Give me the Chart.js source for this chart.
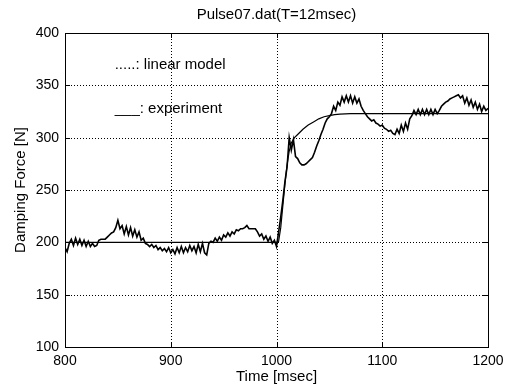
<!DOCTYPE html>
<html><head><meta charset="utf-8">
<script src="https://cdn.jsdelivr.net/npm/chart.js@4/dist/chart.umd.min.js"></script>
<style>html,body{margin:0;padding:0;background:#fff;overflow:hidden}</style>
</head><body><canvas id="c" width="516" height="389"></canvas>
<script>
// ---- data ----
const chartTitle = 'Pulse07.dat(T=12msec)';
const xTitle = 'Time [msec]';
const yTitle = 'Damping Force [N]';
const xTicks = [800, 900, 1000, 1100, 1200];
const yTicks = [100, 150, 200, 250, 300, 350, 400];
const legendLabels = ['.....: linear model', '___: experiment'];

// experiment: sampled every 2 msec from 800 to 1200
const expStart = 800, expStep = 2;
const experimentForce = [
  195,191,199,203,197,204,198,203,197,202,
  196,201,196,199,196,197,202,203,203,203,
  205,207,209,210,214,221,213,216,208,215,
  207,214,206,212,205,210,202,204,199,198,
  196,198,195,197,193,195,192,194,191,195,
  190,193,189,195,190,196,190,195,191,197,
  192,196,190,198,191,199,190,188,199,201,
  200,204,201,205,202,207,205,209,206,210,
  208,212,211,213,213,214,216,213,213,213,
  213,210,206,208,203,206,201,205,199,202,
  196,210,224,240,258,272,300,288,298,282,
  280,276,274,274,275,277,279,281,286,292,
  297,303,308,314,318,320,323,330,326,334,
  331,339,334,340,334,340,333,339,333,337,
  330,326,323,320,318,316,317,314,313,311,
  312,309,308,306,307,304,303,308,304,312,
  306,314,308,318,321,326,322,327,322,327,
  322,327,322,327,322,327,323,326,330,332,
  334,335,337,338,339,340,341,338,340,333,
  338,331,336,329,334,327,332,325,330,326,
  328
];
const modelTime  = [800, 1000, 1002, 1004, 1006, 1008, 1010, 1012, 1014, 1017, 1020, 1025, 1030, 1035, 1040, 1045, 1050, 1055, 1060, 1070, 1200];
const modelForce = [200, 200,  201,  214,  235,  256,  274,  287,  295,  300,  303,  308,  312,  315,  318,  320,  321,  322,  322.5, 323, 323];

// ---- build library structures ----
const experimentPts = experimentForce.map((v, i) => ({x: expStart + i * expStep, y: v}));
const modelPts = modelTime.map((t, i) => ({x: t, y: modelForce[i]}));

const FONT = "'Liberation Sans', Arial, Helvetica, sans-serif";
Chart.defaults.font.family = FONT;
Chart.defaults.color = '#000';

const decor = {
  id: 'decor',
  beforeDatasetsDraw(chart) {
    const {ctx, chartArea: a, scales: {x, y}} = chart;
    ctx.save();
    ctx.strokeStyle = '#000';
    ctx.lineWidth = 1;
    ctx.setLineDash([1, 2]);
    ctx.beginPath();
    xTicks.slice(1, -1).forEach(v => {
      const px = Math.round(x.getPixelForValue(v)) + 0.5;
      ctx.moveTo(px, a.top); ctx.lineTo(px, a.bottom);
    });
    yTicks.slice(1, -1).forEach(v => {
      const py = Math.round(y.getPixelForValue(v)) + 0.5;
      ctx.moveTo(a.left, py); ctx.lineTo(a.right, py);
    });
    ctx.stroke();
    ctx.restore();
  },
  afterDraw(chart, args, opts) {
    const {ctx, chartArea: a, scales: {x, y}} = chart;
    ctx.save();
    ctx.strokeStyle = '#000';
    ctx.lineWidth = 1;
    ctx.setLineDash([]);
    ctx.strokeRect(Math.round(a.left) + 0.5, Math.round(a.top) + 0.5, Math.round(a.width), Math.round(a.height));
    const tl = 5;
    ctx.beginPath();
    xTicks.forEach(v => {
      const px = Math.round(x.getPixelForValue(v)) + 0.5;
      ctx.moveTo(px, a.bottom); ctx.lineTo(px, a.bottom - tl);
      ctx.moveTo(px, a.top); ctx.lineTo(px, a.top + tl);
    });
    yTicks.forEach(v => {
      const py = Math.round(y.getPixelForValue(v)) + 0.5;
      ctx.moveTo(a.left, py); ctx.lineTo(a.left + tl, py);
      ctx.moveTo(a.right, py); ctx.lineTo(a.right - tl, py);
    });
    ctx.stroke();
    // title
    ctx.fillStyle = '#000';
    ctx.font = '15px ' + FONT;
    ctx.textAlign = 'center';
    ctx.textBaseline = 'middle';
    ctx.fillText(chartTitle, (a.left + a.right) / 2, 15);
    // in-plot legend text
    ctx.textAlign = 'left';
    ctx.font = '15px ' + FONT;
    opts.labels.forEach((lab, i) => {
      ctx.fillText(lab, x.getPixelForValue(opts.anchorX), y.getPixelForValue(opts.anchorY[i]));
    });
    ctx.restore();
  }
};

new Chart(document.getElementById('c'), {
  type: 'line',
  data: {
    datasets: [
      {label: 'experiment', data: experimentPts, borderColor: '#000', borderWidth: 1.6, pointRadius: 0, tension: 0, fill: false},
      {label: 'linear model', data: modelPts, borderColor: '#000', borderWidth: 1.2, pointRadius: 0, tension: 0, fill: false}
    ]
  },
  options: {
    responsive: false,
    animation: false,
    devicePixelRatio: 1,
    layout: {padding: {left: 0, right: 28, top: 33, bottom: 0}},
    plugins: {
      legend: {display: false},
      tooltip: {enabled: false},
      title: {display: false},
      decor: {labels: legendLabels, anchorX: 847, anchorY: [370, 328]}
    },
    scales: {
      x: {
        type: 'linear', min: 800, max: 1200,
        afterBuildTicks: s => { s.ticks = xTicks.map(v => ({value: v})); },
        afterFit: s => { s.height = 42; },
        ticks: {padding: 6, font: {size: 14}, maxRotation: 0, autoSkip: false, color: '#000', callback: v => String(v)},
        grid: {display: false, drawTicks: false},
        border: {display: false},
        title: {display: true, text: xTitle, font: {size: 15}, padding: {top: 0, bottom: 3}, color: '#000'}
      },
      y: {
        type: 'linear', min: 100, max: 400,
        afterBuildTicks: s => { s.ticks = yTicks.map(v => ({value: v})); },
        afterFit: s => { s.width = 65; },
        ticks: {padding: 6, font: {size: 14}, autoSkip: false, color: '#000', callback: v => String(v)},
        grid: {display: false, drawTicks: false},
        border: {display: false},
        title: {display: true, text: yTitle, font: {size: 15}, padding: {top: 12, bottom: 0}, color: '#000'}
      }
    }
  },
  plugins: [decor]
});
</script>
</body></html>
